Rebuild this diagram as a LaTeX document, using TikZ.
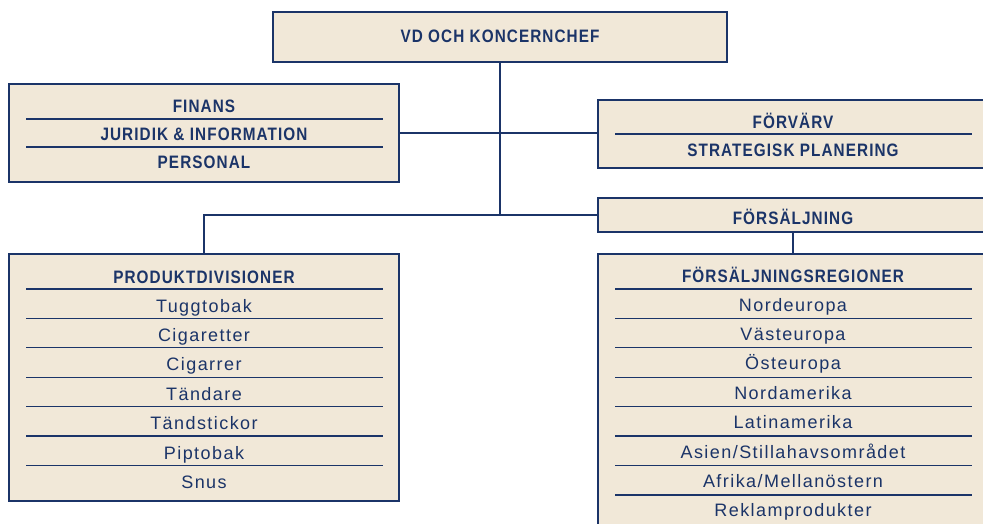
\documentclass[tikz,border=0pt]{standalone}
\usepackage{fontspec}
\setmainfont{Liberation Sans}
\newfontfamily\headfont[FakeStretch=0.85,LetterSpace=6]{Liberation Sans}
\newfontfamily\itemfont[LetterSpace=8]{Liberation Sans}
\usetikzlibrary{positioning}
\definecolor{navy}{HTML}{1B3468}
\definecolor{cream}{HTML}{F1E8D8}

\begin{document}
\begin{tikzpicture}[x=1pt, y=-1pt,
      box/.style={rectangle, draw=navy, line width=2.6pt, fill=cream, minimum width=390pt, inner sep=0pt},
      head/.style={anchor=base, text=navy, font=\headfont\bfseries\fontsize{18}{20}\selectfont},
      item/.style={anchor=base, text=navy, font=\itemfont\fontsize{18}{20}\selectfont},
      rule/.style={draw=navy, line width=1.1pt},
      link/.style={draw=navy, line width=2.6pt}]

      \useasboundingbox (0,0) rectangle (983,524);
      \fill[white] (0,0) rectangle (983,524);
      \clip (0,0) rectangle (983,524);

      % Blocks
      \node[box, minimum width=454pt, minimum height=50pt] (vd) at (500,37) {};
      \node[box, minimum height=98pt] (staff) at (204,133) {};
      \node[box, minimum height=68pt] (strat) at (793,134) {};
      \node[box, minimum height=34pt] (fors) at (793,215) {};
      \node[box, minimum height=247pt] (prod) at (204,377.5) {};
      \node[box, minimum height=276pt] (reg) at (793,392) {};

      % Connections
      \draw[link] (vd.south) -- (vd.south |- fors.west);
      \draw[link] (staff.east) -- (staff.east -| strat.west);
      \draw[link] (prod.north) |- (fors.west);
      \draw[link] (fors.south) -- (reg.north);

      % Labels
      \node[head] (vdlabel) at (500,43) {VD OCH KONCERNCHEF};
      \node[head] (finans) at (204,113) {FINANS};
      \node[head] (juridik) at (204,141) {JURIDIK \& INFORMATION};
      \node[head] (personal) at (204,169) {PERSONAL};
      \node[head] (forvarv) at (793,129) {FÖRVÄRV};
      \node[head] (planering) at (793,157) {STRATEGISK PLANERING};
      \node[head] (salj) at (793,224) {FÖRSÄLJNING};
      \node[head] (divisioner) at (204,283) {PRODUKTDIVISIONER};
      \node[head] (regioner) at (793,282) {FÖRSÄLJNINGSREGIONER};

      \foreach \name [count=\i from 0] in {Tuggtobak, Cigaretter, Cigarrer, Tändare, Tändstickor, Piptobak, Snus}
        \node[item] (prod\i) at (204,{312+29.4*\i}) {\name};
      \foreach \name [count=\i from 0] in {Nordeuropa, Västeuropa, Östeuropa, Nordamerika, Latinamerika, Asien/Stillahavsområdet, Afrika/Mellanöstern, Reklamprodukter}
        \node[item] (reg\i) at (793,{311+29.4*\i}) {\name};

      % Separators
      \foreach \y in {119,147}
        \draw[rule] (26,\y) -- (383,\y);
      \draw[rule] (615,134) -- (972,134);
      \foreach \i in {0,...,6} {
        \draw[rule] (26,{289+29.4*\i}) -- (383,{289+29.4*\i});
        \draw[rule] (615,{289+29.4*\i}) -- (972,{289+29.4*\i});
      }
      \draw[rule, line width=2pt] (615,494.8) -- (972,494.8);
    \end{tikzpicture}
\end{document}
